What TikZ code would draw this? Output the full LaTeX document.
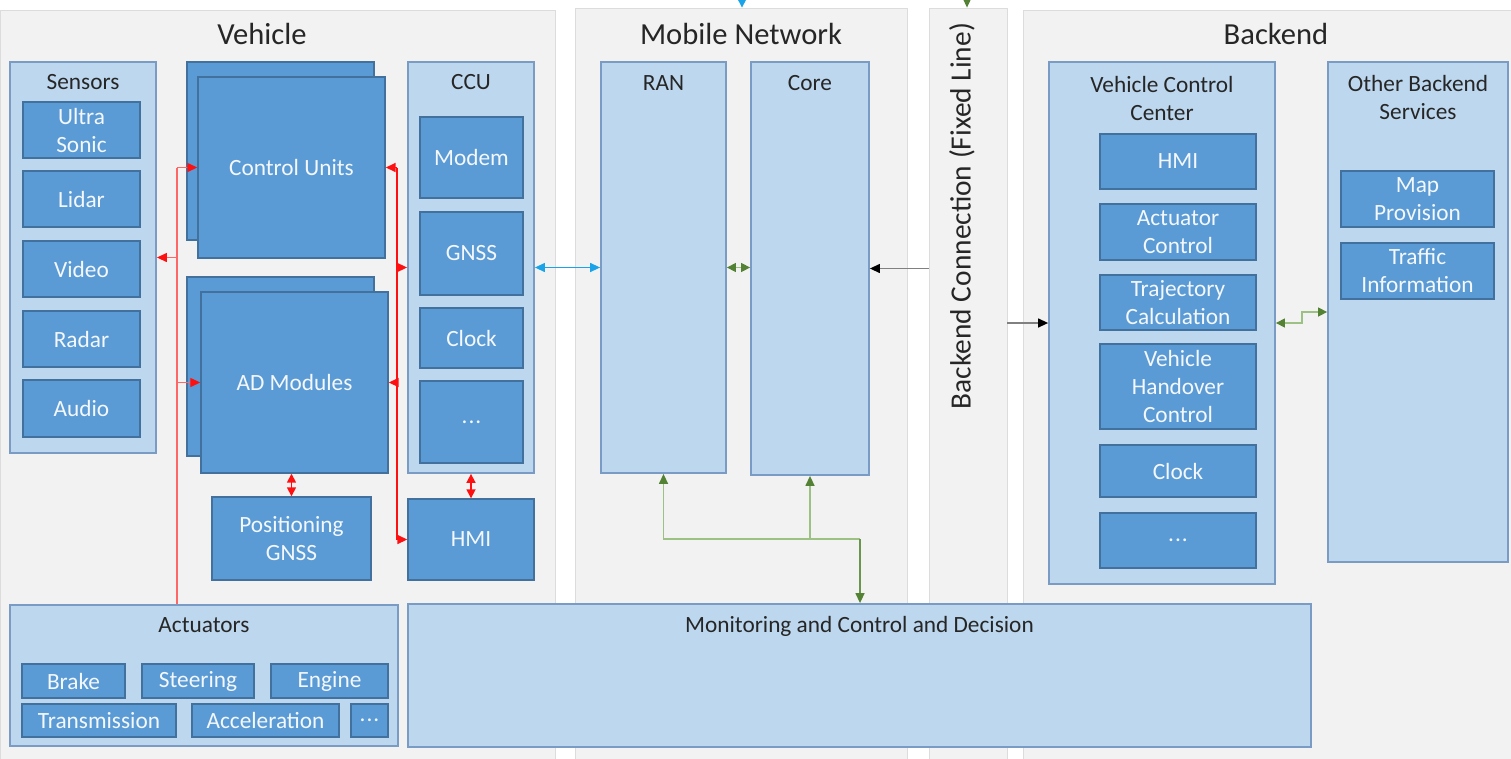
\documentclass[tikz,border=0pt]{standalone}
\usepackage{fontspec}
\setmainfont{Carlito}
\usetikzlibrary{arrows.meta}

\definecolor{panelgray}{HTML}{F2F2F2}
\definecolor{panelline}{HTML}{DCDCDC}
\definecolor{boxblue}{HTML}{5B9BD5}
\definecolor{boxline}{HTML}{41719C}
\definecolor{lightblue}{HTML}{BDD7EE}
\definecolor{contline}{HTML}{7A9CC4}
\definecolor{darktext}{HTML}{262626}
\definecolor{boxtext}{HTML}{F4F7FB}
\definecolor{redlight}{HTML}{FF6666}
\definecolor{redfull}{HTML}{FF1010}
\definecolor{skyblue}{HTML}{1AA3E8}
\definecolor{greenline}{HTML}{9CC283}
\definecolor{greendark}{HTML}{548235}
\definecolor{grayline}{HTML}{808080}

\newcommand\lblfont{\fontsize{23.3}{28}\selectfont}
\newcommand\ttlfont{\fontsize{30.6}{36}\selectfont}
\newcommand\sidefont{\fontsize{29.4}{35}\selectfont}
% box from corner (x1,y1) to corner (x2,y2)
\newcommand\bx[7]{\node[#1, minimum width={(#5-#3)*1pt}, minimum height={(#6-#4)*1pt}] (#2) at ({(#3+#5)/2},{(#4+#6)/2}) {#7};}

\tikzset{
  panel/.style={rectangle, fill=panelgray, draw=panelline, line width=0.8pt, inner sep=0pt},
  cont/.style={rectangle, fill=lightblue, draw=contline, line width=1.8pt, inner sep=0pt},
  dbox/.style={rectangle, fill=boxblue, draw=boxline, line width=1.4pt, inner sep=0pt,
    text=boxtext, align=center, font=\lblfont},
  lbl/.style={text=darktext, font=\lblfont, align=center, inner sep=0pt},
  ttl/.style={text=darktext, font=\ttlfont, inner sep=0pt},
  redtip/.style={-{Triangle[length=10pt,width=9pt,color=redfull]}},
  reddbl/.style={{Triangle[length=9pt,width=9pt,color=redfull]}-{Triangle[length=9pt,width=9pt,color=redfull]}},
  redL/.style={draw=redlight, line width=1.3pt},
  redR/.style={draw=redfull, line width=1.6pt},
  bluelink/.style={draw=skyblue, line width=1.3pt,
    {Triangle[length=10pt,width=9pt]}-{Triangle[length=10pt,width=9pt]}},
  greenlink/.style={draw=greenline, line width=1.4pt},
  gtip/.style={-{Triangle[length=10pt,width=9pt,color=greendark]}},
  gdbl/.style={{Triangle[length=9pt,width=9pt,color=greendark]}-{Triangle[length=9pt,width=9pt,color=greendark]}},
  blacklink/.style={draw=grayline, line width=1.3pt, -{Triangle[length=10pt,width=9pt,color=black]}}
}

\begin{document}
\begin{tikzpicture}[x=1pt,y=-1pt]
\useasboundingbox (0,0) rectangle (1511,758);
\fill[white] (0,0) rectangle (1511,758);

% ---------- domain panels ----------
\bx{panel}{vehP}{0}{10}{555}{770}{}
\bx{panel}{mobP}{575}{8}{907}{770}{}
\bx{panel}{bcP}{929}{8}{1007}{770}{}
\bx{panel}{beP}{1023}{10}{1520}{770}{}

\node[ttl] (vehT) at (262,34) {Vehicle};
\node[ttl] (mobT) at (741,34) {Mobile Network};
\node[ttl] (beT) at (1276,34) {Backend};
\node[ttl, font=\sidefont, rotate=90] (bcT) at (962,216) {Backend Connection (Fixed Line)};

% ---------- vehicle ----------
\bx{cont}{sens}{10}{62}{156}{453}{}
\node[lbl] (sensT) at (83,82) {Sensors};
\bx{dbox}{us}{23}{102}{140}{158}{Ultra\\Sonic}
\bx{dbox}{lidar}{23}{171}{140}{227}{Lidar}
\bx{dbox}{video}{23}{241}{140}{297}{Video}
\bx{dbox}{radar}{23}{311}{140}{367}{Radar}
\bx{dbox}{audio}{23}{380}{140}{437}{Audio}

\bx{dbox}{cuB}{187}{62}{374}{240}{}
\bx{dbox}{cuF}{198}{77}{385}{258}{Control Units}
\bx{dbox}{adB}{187}{277}{374}{456}{}
\bx{dbox}{adF}{201}{292}{388}{473}{AD Modules}
\bx{dbox}{pos}{212}{497}{371}{580}{Positioning\\GNSS}

\bx{cont}{ccu}{408}{62}{534}{473}{}
\node[lbl] (ccuT) at (471,82) {CCU};
\bx{dbox}{modem}{420}{117}{523}{198}{Modem}
\bx{dbox}{gnss}{420}{212}{523}{295}{GNSS}
\bx{dbox}{clockV}{420}{308}{523}{368}{Clock}
\bx{dbox}{moreV}{420}{381}{523}{463}{.\kern1pt.\kern1pt.}
\bx{dbox}{hmiV}{408}{499}{534}{580}{HMI}

\bx{cont}{act}{10}{605}{398}{746}{}
\node[lbl] (actT) at (204,625) {Actuators};
\bx{dbox}{brake}{22}{664}{125}{698}{Brake}
\bx{dbox}{steer}{142}{664}{254}{698}{Steering}
\bx{dbox}{engine}{271}{664}{388}{698}{Engine}
\bx{dbox}{trans}{22}{704}{176}{737}{Transmission}
\bx{dbox}{accel}{192}{704}{339}{737}{Acceleration}
\bx{dbox}{moreA}{351}{704}{388}{737}{.\kern1pt.\kern1pt.}

% ---------- mobile network ----------
\bx{cont}{ran}{601}{62}{726}{473}{}
\node[lbl] (ranT) at (663.5,83) {RAN};
\bx{cont}{core}{751}{62}{869}{475}{}
\node[lbl] (coreT) at (810,83) {Core};

\bx{cont}{mon}{408}{604}{1311}{747}{}
\node[lbl] (monT) at (859.5,626) {Monitoring and Control and Decision};

% ---------- backend ----------
\bx{cont}{vcc}{1049}{62}{1275}{584}{}
\node[lbl] (vccT) at (1162,98) {Vehicle Control\\Center};
\bx{dbox}{hmiB}{1100}{134}{1256}{189}{HMI}
\bx{dbox}{actc}{1100}{204}{1256}{260}{Actuator\\Control}
\bx{dbox}{traj}{1100}{275}{1256}{330}{Trajectory\\Calculation}
\bx{dbox}{hand}{1100}{344}{1256}{429}{Vehicle\\Handover\\Control}
\bx{dbox}{clockB}{1100}{445}{1256}{497}{Clock}
\bx{dbox}{moreB}{1100}{513}{1256}{568}{.\kern1pt.\kern1pt.}

\bx{cont}{obs}{1328}{62}{1508}{562}{}
\node[lbl] (obsT) at (1418,97) {Other Backend\\Services};
\bx{dbox}{map}{1341}{171}{1494}{227}{Map\\Provision}
\bx{dbox}{traffic}{1341}{243}{1494}{299}{Traffic\\Information}

% ---------- in-vehicle links ----------
\coordinate (busL) at (177,0);
\coordinate (busR) at (397,0);
\draw[redL] (busL |- act.north) -- (busL |- cuF.west);
\draw[redL, redtip] (busL |- cuF.west) -- (cuF.west);
\draw[redL, redtip] (busL |- sens.east) -- (sens.east);
\draw[redL, redtip] (busL |- adF.west) -- (adF.west);

\draw[redR] (busR |- cuF.east) -- (busR |- hmiV.west);
\draw[redR, redtip] (busR |- cuF.east) -- (cuF.east);
\draw[redR, redtip] (busR |- ccu.west) -- (ccu.west);
\draw[redR, redtip] (busR |- adF.east) -- (adF.east);
\draw[redR, redtip] (busR |- hmiV.west) -- (hmiV.west);

\draw[redR, reddbl] (pos.north |- adF.south) -- (pos.north);
\draw[redR, reddbl] (ccu.south) -- (hmiV.north);

% ---------- network links ----------
\draw[bluelink] (ccu.east) -- (ran.west |- ccu.east);
\draw[greenlink, gdbl] (ran.east) -- (core.west |- ran.east);
\draw[blacklink] (bcP.west |- core.east) -- (core.east);
\draw[blacklink] (bcP.east |- vcc.west) -- (vcc.west);

\coordinate (gj) at (860,539);
\draw[greenlink, gtip] (gj) -| (ran.south);
\draw[greenlink, gtip] (core.south |- gj) -- (core.south);
\draw[greenlink, draw=greendark!70!greenline, gtip] (gj) -- (mon.north -| gj);

\coordinate (jog) at (1302,323);
\draw[greenlink, gdbl] (vcc.east) -- (jog) |- (obs.west);

% links arriving from above
\coordinate (topB) at (742,-6);
\coordinate (topG) at (967,-6);
\draw[draw=skyblue, line width=1.3pt, -{Triangle[length=10pt,width=10pt]}] (topB) -- (mobP.north -| topB);
\draw[greenlink, gtip] (topG) -- (bcP.north -| topG);
\end{tikzpicture}
\end{document}
